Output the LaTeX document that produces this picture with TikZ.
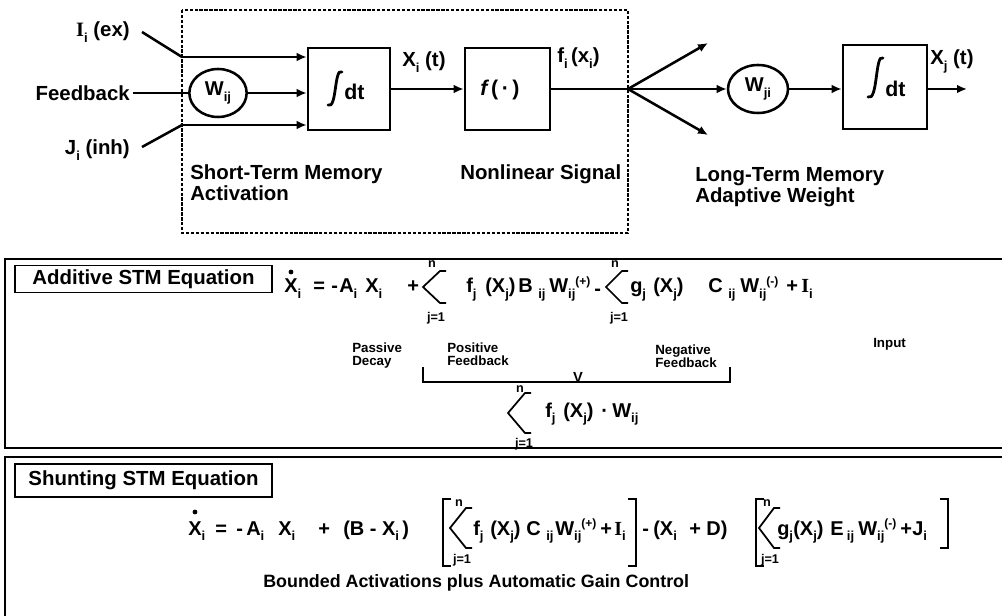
\documentclass[tikz,border=0pt]{standalone}
\usepackage{fontspec}
\setmainfont{Liberation Sans}
\newfontfamily\serifI{Liberation Serif}
\usetikzlibrary{arrows.meta,shapes.geometric}
\newcommand{\sbi}[1]{\raisebox{-3.8pt}{\fontsize{9.8}{10}\selectfont\bfseries #1}}
\newcommand{\spi}[1]{\raisebox{5.5pt}{\fontsize{9}{10}\selectfont\bfseries #1}}
\newcommand{\bigf}{\fontsize{15.3}{18}\selectfont\bfseries}
\newcommand{\eqf}{\fontsize{15}{18}\selectfont\bfseries}
\newcommand{\smf}{\fontsize{10}{12}\selectfont\bfseries}
\newcommand{\limf}{\fontsize{9.5}{10}\selectfont\bfseries}
\newcommand{\dtf}{\fontsize{16}{18}\selectfont\bfseries}
\newcommand{\sI}{{\serifI\bfseries I}}
\begin{document}
\begin{tikzpicture}[x=0.75pt,y=-0.75pt,
  lbl/.style={font=\bigf,inner sep=0pt,anchor=base west},
  lble/.style={lbl,anchor=base east},
  eq/.style={font=\eqf,inner sep=0pt,anchor=base west},
  sml/.style={font=\smf,inner sep=0pt,anchor=base west},
  lim/.style={font=\limf,inner sep=0pt,anchor=base},
  blk/.style={draw,line width=1.9pt,inner sep=0pt},
  wt/.style={draw,ellipse,line width=1.9pt,inner sep=0pt,font=\eqf},
  wire/.style={line width=1.9pt},
  arr/.style={wire,-{Latex[length=7.5pt,width=6.5pt]}},
  intg/.style={line width=2.1pt,line cap=round},
  sig/.style={line width=1.3pt,line join=miter},
  brk/.style={line width=1.5pt},
  frm/.style={line width=1.2pt},
  tagbox/.style={draw,line width=1.1pt,inner sep=0pt,font=\bigf},
]
\path[use as bounding box] (0,0) rectangle (1002,616);

% ---------------- top block diagram
\draw[dash pattern=on 2.5pt off 1.2pt,line width=0.8pt] (182,10) rectangle (628,233);

\node[lble] (iex) at (130,37) {\sI\sbi{i} (ex)};
\node[lble] (fb) at (130,101) {Feedback};
\node[lble] (jinh) at (130,155) {J\sbi{i} (inh)};

\node[wt,minimum width=43pt,minimum height=36pt] (wij) at (218,93) {W\sbi{ij}};
\node[blk,minimum width=61.5pt,minimum height=61.5pt] (b1) at (349,89) {};
\node[blk,minimum width=63.75pt,minimum height=61.5pt] (b2) at (507.5,89) {};
\node[wt,minimum width=45pt,minimum height=36pt] (wji) at (758,89) {W\sbi{ji}};
\node[blk,minimum width=63pt,minimum height=63pt] (b3) at (885,87) {};

\coordinate (ia) at (142,32);
\coordinate (ja) at (182,57);
\coordinate (jb) at (142,147);
\coordinate (jc) at (182,125);
\draw[wire] (ia) -- (ja);
\draw[arr] (ja) -- (ja -| b1.west);
\draw[wire,shorten <=2pt] (fb.east |- wij.west) -- (wij.west);
\draw[arr] (wij.east) -- (wij.east -| b1.west);
\draw[wire] (jb) -- (jc);
\draw[arr] (jc) -- (jc -| b1.west);

\draw[intg] (342,72) .. controls (334,67) and (337,110) .. (328,105);
\node[font=\dtf,inner sep=0pt,anchor=base west] (dt1) at (344,100) {dt};
\node[lbl] (xit) at (402,67) {X\sbi{i} (t)};
\draw[arr] (b1.east) -- (b2.west);
\node[font=\fontsize{16}{18}\selectfont\bfseries,inner sep=0pt] (fdot) at (500,90) {{\itshape f}\,(\,·\,)};
\node[lbl] (fix) at (557,63) {f\sbi{i}\,(x\sbi{i})};

\coordinate (fan) at (628,89);
\coordinate (fu) at (708,43);
\coordinate (fd) at (708,135);
\draw[wire] (b2.east) -- (fan);
\draw[arr] (fan) -- (fu);
\draw[arr] (fan) -- (fd);
\draw[arr] (fan) -- (wji.west);
\draw[arr] (wji.east) -- (wji.east -| b3.west);
\draw[intg] (883,58) .. controls (875,53) and (878,102) .. (868,97);
\node[font=\dtf,inner sep=0pt,anchor=base west] (dt2) at (885,97) {dt};
\coordinate (xo) at (967,89);
\draw[arr] (b3.east |- xo) -- (xo);
\node[lbl] (xjt) at (930,65) {X\sbi{j} (t)};

\node[lbl] (stm1) at (190,180) {Short-Term Memory};
\node[lbl] (stm2) at (190,201) {Activation};
\node[lbl] (nls) at (460,180) {Nonlinear Signal};
\node[lbl] (ltm1) at (695,182) {Long-Term Memory};
\node[lbl] (ltm2) at (695,203) {Adaptive Weight};

% ---------------- additive STM
\draw[frm] (1002,259) -- (5,259) -- (5,448) -- (1002,448);
\node[tagbox,minimum width=192.75pt,minimum height=20pt] (addl) at (143.5,279) {Additive STM Equation};

\node[eq] (a1) at (284,293) {X\sbi{i}};
\fill (291,272) circle (1.8pt);
\node[eq] (a2) at (313,293) {=};
\node[eq] (a3) at (331,293) {-};
\node[eq] (a4) at (339,293) {A\sbi{i}};
\node[eq] (a5) at (365,293) {X\sbi{i}};
\node[eq] (a6) at (407,293) {+};
\draw[sig] (446,271) -- (440,271) -- (423,287) -- (440,303) -- (446,303);
\node[lim] (a7n) at (432,268) {n};
\node[lim] (a7j) at (436,321) {j=1};
\node[eq] (a8) at (466,293) {f\sbi{j}};
\node[eq] (a9) at (485,293) {(X\sbi{j})};
\node[eq] (a10) at (518,293) {B \sbi{ij}};
\node[eq] (a11) at (549,293) {W\sbi{ij}\spi{(+)}};
\node[eq] (a12) at (594,296) {-};
\draw[sig] (628,271) -- (622,271) -- (606,287) -- (622,303) -- (628,303);
\node[lim] (a13n) at (615,268) {n};
\node[lim] (a13j) at (619,321) {j=1};
\node[eq] (a14) at (630,293) {g\sbi{j}};
\node[eq] (a15) at (653,293) {(X\sbi{j})};
\node[eq] (a16) at (708,293) {C \sbi{ij}};
\node[eq] (a17) at (740,293) {W\sbi{ij}\spi{(-)}};
\node[eq] (a18) at (786,293) {+};
\node[eq] (a19) at (801,293) {\sI\sbi{i}};

\node[sml] (pd1) at (352,352) {Passive};
\node[sml] (pd2) at (352,365) {Decay};
\node[sml] (pf1) at (447,352) {Positive};
\node[sml] (pf2) at (447,365) {Feedback};
\node[sml] (nf1) at (655,354) {Negative};
\node[sml] (nf2) at (655,367) {Feedback};
\node[sml] (inp) at (873,348) {Input};

\draw[line width=1pt] (423,367) -- (423,382) -- (730,382) -- (730,367);
\node[font=\fontsize{11}{12}\selectfont\bfseries,inner sep=0pt] (vv) at (578,377) {V};

\draw[sig] (531,393) -- (525,393) -- (508,413) -- (525,433) -- (531,433);
\node[lim] (s0n) at (520,392) {n};
\node[lim] (s0j) at (524,447) {j=1};
\node[eq] (s1) at (545,417) {f\sbi{j}};
\node[eq] (s2) at (563,417) {(X\sbi{j})};
\node[eq] (s3) at (601,417) {·};
\node[eq] (s4) at (612,417) {W\sbi{ij}};

% ---------------- shunting STM
\draw[frm] (1002,457) -- (5,457) -- (5,616);
\node[tagbox,minimum width=192.75pt,minimum height=24.75pt] (shl) at (143.5,480.5) {Shunting STM Equation};

\node[eq] (q1) at (188,535) {X\sbi{i}};
\fill (195,512) circle (1.8pt);
\node[eq] (q2) at (215,535) {=};
\node[eq] (q3) at (236,535) {-};
\node[eq] (q4) at (246,535) {A\sbi{i}};
\node[eq] (q5) at (278,535) {X\sbi{i}};
\node[eq] (q6) at (318,535) {+};
\node[eq] (q7) at (343,535) {(B - X\sbi{i}\,)};

\draw[brk] (451,499) -- (443,499) -- (443,566) -- (451,566);
\draw[sig] (472,508) -- (466,508) -- (450,528) -- (466,548) -- (472,548);
\node[lim] (q8n) at (459,506) {n};
\node[lim] (q8j) at (462,563) {j=1};
\node[eq] (q9) at (473,535) {f\sbi{j}};
\node[eq] (q10) at (490,535) {(X\sbi{j})};
\node[eq] (q11) at (526,535) {C \sbi{ij}};
\node[eq] (q12) at (555,535) {W\sbi{ij}\spi{(+)}};
\node[eq] (q13) at (600,535) {+};
\node[eq] (q14) at (614,535) {\sI\sbi{i}};
\draw[brk] (628,499) -- (636,499) -- (636,566) -- (628,566);
\node[eq] (q15) at (642,535) {-};
\node[eq] (q16) at (653,535) {(X\sbi{i}};
\node[eq] (q17) at (689,535) {+ D)};

\draw[brk] (764,499) -- (756,499) -- (756,566) -- (764,566);
\draw[sig] (780,508) -- (774,508) -- (759,528) -- (774,548) -- (780,548);
\node[lim] (q18n) at (767,506) {n};
\node[lim] (q18j) at (770,563) {j=1};
\node[eq] (q19) at (777,535) {g\sbi{j}};
\node[eq] (q20) at (793,535) {(X\sbi{j})};
\node[eq] (q21) at (830,535) {E\,\sbi{ij}};
\node[eq] (q22) at (858,535) {W\sbi{ij}\spi{(-)}};
\node[eq] (q23) at (900,535) {+};
\node[eq] (q24) at (912,535) {J\sbi{i}};
\draw[brk] (940,499) -- (948,499) -- (948,548) -- (940,548);

\node[font=\fontsize{13.4}{16}\selectfont\bfseries,inner sep=0pt,anchor=base west] (bnd) at (263,587) {Bounded Activations plus Automatic Gain Control};
\end{tikzpicture}
\end{document}
